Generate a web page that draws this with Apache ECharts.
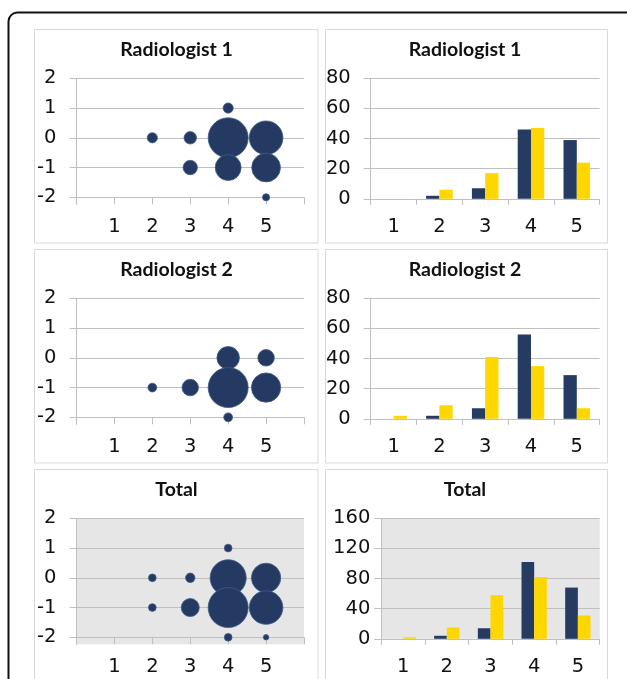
<!DOCTYPE html>
<html>
<head>
<meta charset="utf-8">
<script src="https://cdn.jsdelivr.net/npm/echarts@6/dist/echarts.min.js"></script>
<style>
  html, body { margin: 0; padding: 0; background: #fff; }
  #chart { width: 627px; height: 679px; }
</style>
</head>
<body>
<div id="chart"></div>
<script>
// ---- data ----
const categories = ['1', '2', '3', '4', '5'];
const r1Dark = [0, 2, 7, 46, 39];
const r1Yellow = [0, 6, 17, 47, 24];
const r2Dark = [0, 2, 7, 56, 29];
const r2Yellow = [2, 9, 41, 35, 7];
const totalDark = [0, 4, 14, 102, 68];
const totalYellow = [2, 15, 58, 82, 31];
// bubbles: [score, difference, count]
const r1Bubbles = [[2, 0, 2], [3, 0, 3], [3, -1, 4], [4, 1, 2], [4, 0, 31], [4, -1, 13], [5, 0, 22], [5, -1, 16], [5, -2, 1]];
const r2Bubbles = [[2, -1, 2], [3, -1, 7], [4, 0, 13], [4, -1, 41], [4, -2, 2], [5, 0, 7], [5, -1, 22]];
const totalBubbles = [[2, 0, 2], [2, -1, 2], [3, 0, 3], [3, -1, 11], [4, 1, 2], [4, 0, 44], [4, -1, 54], [4, -2, 2], [5, 0, 29], [5, -1, 38], [5, -2, 1]];
const bubbleYTicks = [-2, -1, 0, 1, 2];
const bubbleXLabels = [1, 2, 3, 4, 5];
const panelTitles = ['Radiologist 1', 'Radiologist 2', 'Total'];

// ---- styling ----
const FONT = 'Lato, "Open Sans", sans-serif';
const TICK_FONT = '"DejaVu Sans", sans-serif';
const GRID_C = '#bfbfbf';
const TXT = '#111';
const DARK = '#253b61';
const YELLOW = '#ffd700';
const ROW_OFF = [0, 220, 440];
const MAX_BUBBLE = 40;

const grids = [], xAxes = [], yAxes = [], series = [], titles = [], graphics = [];

const bubbleSets = [r1Bubbles, r2Bubbles, totalBubbles];
const barSets = [[r1Dark, r1Yellow, 80, 20], [r2Dark, r2Yellow, 80, 20], [totalDark, totalYellow, 160, 40]];

ROW_OFF.forEach((off, r) => {
  const shaded = r === 2;
  grids.push({ left: 76.5, top: 78.3 + off, width: 227.5, height: 126, show: shaded,
    backgroundColor: shaded ? '#e6e6e6' : 'transparent', borderWidth: 0, containLabel: false, outerBoundsMode: 'none' });
  const isTotal = r === 2;
  grids.push({ left: isTotal ? 381.3 : 370.7, top: 78.3 + off, width: isTotal ? 218.4 : 229, height: 120.5, show: shaded,
    backgroundColor: shaded ? '#e6e6e6' : 'transparent', borderWidth: 0, containLabel: false, outerBoundsMode: 'none' });

  const gB = r * 2, gR = r * 2 + 1;
  const labelStyle = { color: TXT, fontFamily: TICK_FONT, fontSize: 19.5 };

  xAxes.push({ gridIndex: gB, type: 'value', min: 0, max: 6, interval: 1,
    axisLine: { show: false, onZero: false },
    axisTick: { show: true, inside: true, length: 7, lineStyle: { color: GRID_C } },
    splitLine: { show: false },
    axisLabel: Object.assign({ margin: 12.5, customValues: bubbleXLabels }, labelStyle) });
  yAxes.push({ gridIndex: gB, type: 'value', min: -2.235, max: 2,
    axisLine: { show: true, onZero: false, lineStyle: { color: GRID_C } },
    axisTick: { show: true, length: 7, lineStyle: { color: GRID_C }, customValues: bubbleYTicks },
    splitLine: { show: true, lineStyle: { color: GRID_C, width: 1 } },
    axisLabel: Object.assign({ margin: 20, customValues: bubbleYTicks }, labelStyle) });

  const [dark, yellow, ymax, yint] = barSets[r];
  xAxes.push({ gridIndex: gR, type: 'category', data: categories,
    axisLine: { show: true, lineStyle: { color: GRID_C } },
    axisTick: { show: true, length: 6, lineStyle: { color: GRID_C } },
    axisLabel: Object.assign({ margin: 18, interval: 0 }, labelStyle) });
  yAxes.push({ gridIndex: gR, type: 'value', min: 0, max: ymax, interval: yint,
    axisLine: { show: true, lineStyle: { color: GRID_C } },
    axisTick: { show: true, length: 7, lineStyle: { color: GRID_C } },
    splitLine: { show: true, lineStyle: { color: GRID_C, width: 1 } },
    axisLabel: Object.assign({ margin: isTotal ? 11 : 20 }, labelStyle) });

  const bub = bubbleSets[r];
  const maxV = Math.max(...bub.map(d => d[2]));
  series.push({ type: 'scatter', xAxisIndex: gB, yAxisIndex: gB, data: bub, symbol: 'circle',
    symbolSize: v => MAX_BUBBLE * Math.sqrt(v[2] / maxV),
    itemStyle: { color: '#243a63', borderColor: '#3f5a8c', borderWidth: 0.8, opacity: 1 },
    emphasis: { disabled: true }, silent: true });
  series.push({ type: 'bar', xAxisIndex: gR, yAxisIndex: gR, data: dark, barGap: '0%', barCategoryGap: '42%',
    itemStyle: { color: DARK }, silent: true });
  series.push({ type: 'bar', xAxisIndex: gR, yAxisIndex: gR, data: yellow, barGap: '0%', barCategoryGap: '42%',
    itemStyle: { color: YELLOW }, silent: true });

  [176.5, 465].forEach(cx => {
    titles.push({ text: panelTitles[r], left: cx, top: 39.5 + off, textAlign: 'center', padding: 0,
      textStyle: { fontFamily: FONT, fontSize: 19.5, fontWeight: 'bold', color: TXT } });
  });

  graphics.push({ type: 'rect', shape: { x: 34.5, y: 29.5 + off, width: 283.5, height: 213.5 },
    style: { fill: null, stroke: '#d9d9d9', lineWidth: 1 }, z: -1 });
  graphics.push({ type: 'rect', shape: { x: 325.5, y: 29.5 + off, width: 282, height: 213.5 },
    style: { fill: null, stroke: '#d9d9d9', lineWidth: 1 }, z: -1 });
});

graphics.push({ type: 'rect', shape: { x: 8.5, y: 12.5, width: 640, height: 720, r: 9 },
  style: { fill: null, stroke: '#111', lineWidth: 2 } });

const chart = echarts.init(document.getElementById('chart'), null, { renderer: 'canvas' });
chart.setOption({
  animation: false,
  backgroundColor: '#fff',
  title: titles,
  grid: grids,
  xAxis: xAxes,
  yAxis: yAxes,
  series: series,
  graphic: graphics,
  tooltip: { show: false }
});
</script>
</body>
</html>
